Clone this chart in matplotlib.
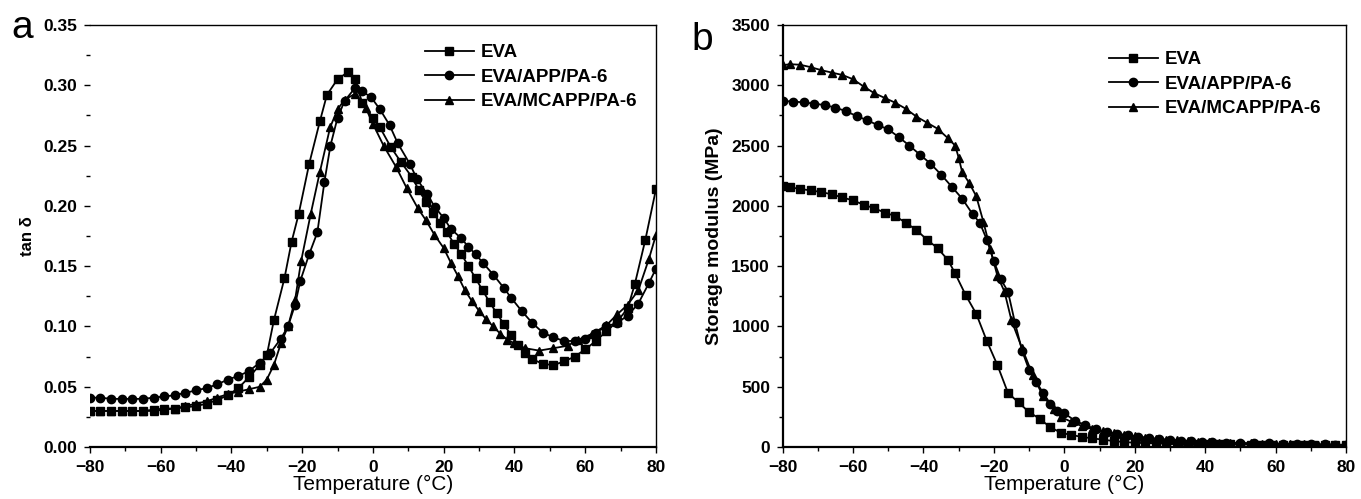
import matplotlib
matplotlib.use("Agg")
import matplotlib.pyplot as plt
from matplotlib.ticker import MultipleLocator

plt.rcParams['font.family'] = ['Liberation Sans', 'DejaVu Sans']
plt.rcParams['xtick.labelsize'] = 12.5
plt.rcParams['ytick.labelsize'] = 12.5

# ---- panel a : tan delta ----
t_eva_a = [-80, -77, -74, -71, -68, -65, -62, -59, -56, -53, -50, -47, -44, -41, -38, -35, -32, -30,
           -28, -25, -23, -21, -18, -15, -13, -10, -7, -5, -3, 0, 2, 5, 8, 11, 13, 15, 17, 19, 21,
           23, 25, 27, 29, 31, 33, 35, 37, 39, 41, 43, 45, 48, 51, 54, 57, 60, 63, 66, 69, 72, 74, 77, 80]
tan_eva = [0.030, 0.030, 0.030, 0.030, 0.030, 0.030, 0.031, 0.032, 0.032, 0.033, 0.034, 0.036, 0.039,
           0.043, 0.049, 0.058, 0.068, 0.076, 0.105, 0.140, 0.170, 0.193, 0.235, 0.270, 0.292, 0.305,
           0.311, 0.305, 0.285, 0.273, 0.265, 0.249, 0.236, 0.224, 0.213, 0.203, 0.194, 0.186, 0.178,
           0.168, 0.160, 0.150, 0.140, 0.130, 0.120, 0.111, 0.102, 0.093, 0.085, 0.078, 0.073, 0.069,
           0.068, 0.071, 0.075, 0.081, 0.088, 0.096, 0.104, 0.115, 0.135, 0.172, 0.214]

t_app_a = [-80, -77, -74, -71, -68, -65, -62, -59, -56, -53, -50, -47, -44, -41, -38, -35, -32, -29,
           -26, -24, -22, -20.5, -18, -15.7, -13.7, -12, -10, -8, -5, -3, -0.5, 2, 4.7, 7, 10.4, 12.5,
           15.3, 17.5, 20, 22, 25, 27, 29, 31, 34, 37, 39, 42, 45, 48, 51, 54, 57, 60, 63, 66, 69, 72,
           75, 78, 80]
tan_app = [0.041, 0.041, 0.040, 0.040, 0.040, 0.040, 0.041, 0.042, 0.043, 0.045, 0.047, 0.049, 0.052,
           0.056, 0.059, 0.063, 0.070, 0.078, 0.090, 0.100, 0.118, 0.138, 0.160, 0.178, 0.220, 0.250,
           0.273, 0.287, 0.298, 0.295, 0.290, 0.280, 0.267, 0.252, 0.235, 0.222, 0.210, 0.199, 0.190,
           0.181, 0.173, 0.166, 0.160, 0.153, 0.143, 0.132, 0.124, 0.113, 0.103, 0.095, 0.091, 0.088,
           0.088, 0.090, 0.095, 0.100, 0.103, 0.109, 0.119, 0.136, 0.148]

t_mc_a = [-80, -77, -74, -71, -68, -65, -62, -59, -56, -53, -50, -47, -44, -41, -38, -35, -32, -30,
          -28, -26, -24, -22, -20.3, -17.6, -15, -12.1, -10, -8, -5, -2, 0, 3, 6.6, 9.5, 12.7, 15,
          17.4, 20, 22, 24, 26, 28, 30, 32, 34, 36, 38, 40, 43, 47, 51, 55, 58, 62, 66, 69, 72, 75, 78, 80]
tan_mc = [0.030, 0.030, 0.030, 0.030, 0.030, 0.030, 0.030, 0.031, 0.032, 0.034, 0.036, 0.038, 0.041,
          0.044, 0.046, 0.048, 0.050, 0.056, 0.068, 0.086, 0.100, 0.122, 0.154, 0.193, 0.228, 0.265,
          0.280, 0.288, 0.293, 0.281, 0.268, 0.250, 0.232, 0.215, 0.198, 0.188, 0.176, 0.165, 0.153,
          0.142, 0.130, 0.121, 0.113, 0.106, 0.100, 0.094, 0.089, 0.086, 0.082, 0.080, 0.082, 0.084,
          0.089, 0.094, 0.101, 0.110, 0.118, 0.130, 0.156, 0.176]

# ---- panel b : storage modulus ----
t_eva_b = [-80, -78, -75, -72, -69, -66, -63, -60, -57, -54, -51, -48, -45, -42, -39, -36, -33, -31,
           -28, -25, -22, -19, -16, -13, -10, -7, -4, -1, 2, 5, 8, 11, 14, 17, 20, 23, 26, 29, 32, 35,
           38, 41, 44, 47, 50, 53, 56, 59, 62, 65, 68, 71, 74, 77, 80]
e_eva = [2165, 2155, 2140, 2128, 2115, 2095, 2070, 2045, 2010, 1980, 1945, 1915, 1860, 1800, 1720,
         1650, 1550, 1440, 1260, 1105, 880, 680, 450, 370, 290, 235, 165, 120, 100, 85, 72, 62, 50,
         42, 36, 33, 31, 29, 27, 26, 25, 24, 23, 22, 21, 21, 20, 20, 19, 18, 18, 17, 16, 16, 15]

t_app_b = [-80, -77, -74, -71, -68, -65, -62, -59, -56, -53, -50, -47, -44, -41, -38, -35, -32, -29,
           -26, -24, -22, -20, -18, -16, -14, -12, -10, -8, -6, -4, -2, 0, 3, 6, 9, 12, 15, 18, 21,
           24, 27, 30, 33, 36, 39, 42, 46, 50, 54, 58, 62, 66, 70, 74, 77, 80]
e_app = [2870, 2865, 2858, 2848, 2835, 2815, 2785, 2745, 2710, 2670, 2635, 2570, 2500, 2425, 2350,
         2260, 2160, 2060, 1930, 1860, 1720, 1540, 1390, 1290, 1030, 800, 640, 540, 450, 360, 300,
         280, 220, 180, 150, 125, 110, 97, 85, 75, 65, 58, 52, 47, 43, 40, 37, 34, 32, 30, 28, 26,
         24, 22, 21, 20]

t_mc_b = [-80, -78, -75, -72, -69, -66, -63, -60, -57, -54, -51, -48, -45, -42, -39, -36, -33, -31,
          -30, -29, -27, -25, -23, -21, -19, -17, -15, -12, -9, -6, -3, -1, 2, 5, 8, 11, 14, 17, 20,
          23, 26, 29, 32, 35, 38, 41, 44, 47, 50, 53, 56, 60, 64, 68, 72, 76, 80]
e_mc = [3165, 3175, 3170, 3150, 3125, 3105, 3085, 3050, 2990, 2935, 2895, 2855, 2805, 2740, 2690,
        2640, 2560, 2500, 2400, 2280, 2190, 2080, 1870, 1640, 1420, 1290, 1050, 820, 600, 420, 320,
        250, 210, 175, 150, 130, 115, 100, 90, 78, 70, 62, 55, 50, 45, 40, 37, 34, 32, 30, 28, 26,
        24, 22, 20, 19, 18]

labels = ['EVA', 'EVA/APP/PA-6', 'EVA/MCAPP/PA-6']

fig = plt.figure(figsize=(13.61, 4.99), dpi=100)
axa = fig.add_axes([0.066, 0.104, 0.416, 0.846])
axb = fig.add_axes([0.575, 0.104, 0.414, 0.846])

kw = dict(color='black', lw=1.3, ms=6)
axa.plot(t_eva_a, tan_eva, marker='s', label=labels[0], **kw)
axa.plot(t_app_a, tan_app, marker='o', label=labels[1], **kw)
axa.plot(t_mc_a, tan_mc, marker='^', label=labels[2], **kw)

axb.plot(t_eva_b, e_eva, marker='s', label=labels[0], **kw)
axb.plot(t_app_b, e_app, marker='o', label=labels[1], **kw)
axb.plot(t_mc_b, e_mc, marker='^', label=labels[2], **kw)

axa.set_xlim(-80, 80)
axa.set_ylim(0, 0.35)
axa.yaxis.set_major_locator(MultipleLocator(0.05))
axa.yaxis.set_minor_locator(MultipleLocator(0.025))
axa.set_yticks([0, 0.05, 0.10, 0.15, 0.20, 0.25, 0.30, 0.35])
axa.set_yticklabels(['0.00', '0.05', '0.10', '0.15', '0.20', '0.25', '0.30', '0.35'])
axa.spines['left'].set_visible(False)
axa.set_ylabel('tan δ', fontsize=12, fontweight='bold', labelpad=6)

axb.set_xlim(-80, 80)
axb.set_ylim(0, 3500)
axb.yaxis.set_major_locator(MultipleLocator(500))
axb.yaxis.set_minor_locator(MultipleLocator(250))
axb.spines['left'].set_linewidth(1.6)
axb.set_ylabel('Storage modulus (MPa)', fontsize=14, fontweight='bold', labelpad=6)

for ax in (axa, axb):
    ax.xaxis.set_major_locator(MultipleLocator(20))
    ax.xaxis.set_minor_locator(MultipleLocator(10))
    ax.tick_params(which='major', direction='out', length=4, width=1, labelsize=12.5, pad=5)
    ax.tick_params(which='minor', direction='out', length=3, width=1)
    for lab in ax.get_xticklabels() + ax.get_yticklabels():
        lab.set_fontweight('bold')
        lab.set_fontsize(12.5)
    ax.spines['bottom'].set_linewidth(1.6)
    ax.spines['top'].set_linewidth(1.0)
    ax.spines['right'].set_linewidth(1.0)
    ax.set_xlabel('Temperature (°C)', fontsize=15, labelpad=0)

fig.legend(*axa.get_legend_handles_labels(), loc='upper left', bbox_to_anchor=(425 / 1361, 1 - 44 / 499),
           frameon=False, borderpad=0, borderaxespad=0, handlelength=2.6, handletextpad=0.4,
           labelspacing=0.4, prop={'size': 13.5, 'weight': 'bold'})
fig.legend(*axb.get_legend_handles_labels(), loc='upper left', bbox_to_anchor=(1109 / 1361, 1 - 51 / 499),
           frameon=False, borderpad=0, borderaxespad=0, handlelength=2.6, handletextpad=0.4,
           labelspacing=0.4, prop={'size': 13.5, 'weight': 'bold'})

fig.text(0.008, 1 - 38 / 499, 'a', fontsize=28, va='baseline')
fig.text(0.508, 1 - 50 / 499, 'b', fontsize=28, va='baseline')

fig.savefig('out.png', dpi=100)
